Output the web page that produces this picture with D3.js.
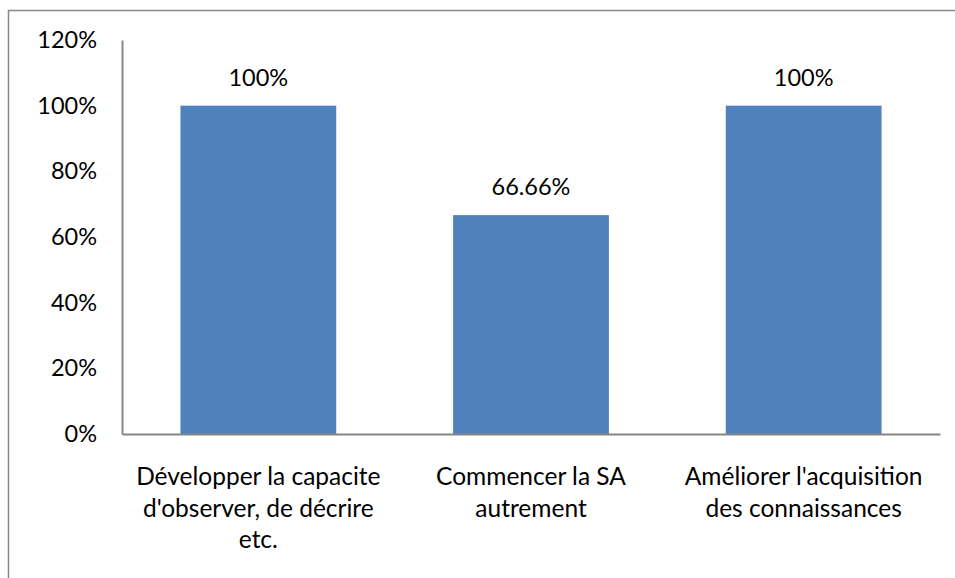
<!DOCTYPE html>
<html><head><meta charset="utf-8">
<script src="https://cdn.jsdelivr.net/npm/d3@7"></script>
<style>body{margin:0;background:#fff}svg{display:block}</style>
</head><body>
<script>
const categories = [
  ["Développer la capacite", "d'observer, de décrire", "etc."],
  ["Commencer la SA", "autrement"],
  ["Améliorer l'acquisition", "des connaissances"]
];
const values = [1.0, 0.6666, 1.0];
const valueLabels = ["100%", "66.66%", "100%"];
const yTicks = [0, 0.2, 0.4, 0.6, 0.8, 1.0, 1.2];

const W = 955, H = 578;
const font = "Lato, 'Open Sans', sans-serif";
const fs = 23.5;
const fsCat = 24.5;
const svg = d3.select("body").append("svg").attr("width", W).attr("height", H);

// outer border (partially clipped)
svg.append("rect").attr("x", 8.5).attr("y", 10.5).attr("width", 1000).attr("height", 1000)
  .attr("fill", "none").attr("stroke", "#898989").attr("stroke-width", 1.5);

const m = {left: 122, right: 940, top: 40, bottom: 434};
const x = d3.scaleBand().domain(d3.range(categories.length)).range([m.left, m.right]).paddingInner(0.4286).paddingOuter(0.2143);
const y = d3.scaleLinear().domain([0, 1.2]).range([m.bottom, m.top]);

svg.selectAll("rect.bar").data(values).join("rect").attr("class", "bar")
  .attr("x", (d, i) => x(i)).attr("width", x.bandwidth())
  .attr("y", d => y(d)).attr("height", d => y(0) - y(d)).attr("fill", "#4F81BD");

const yAxis = svg.append("g").attr("transform", `translate(${m.left},0)`)
  .call(d3.axisLeft(y).tickValues(yTicks).tickFormat(d3.format(".0%")).tickSize(0).tickPadding(25));
yAxis.select(".domain").attr("stroke", "#868686").attr("stroke-width", 2);
yAxis.selectAll("text").attr("font-family", font).attr("font-size", fs).attr("fill", "#000");

const xAxis = svg.append("g").attr("transform", `translate(0,${m.bottom})`)
  .call(d3.axisBottom(x).tickSize(0).tickFormat(""));
xAxis.select(".domain").attr("stroke", "#868686").attr("stroke-width", 2);

// category labels
categories.forEach((lines, i) => {
  const t = svg.append("text").attr("font-family", font).attr("font-size", fsCat).attr("fill", "#000")
    .attr("text-anchor", "middle");
  lines.forEach((l, j) => {
    t.append("tspan").attr("x", x(i) + x.bandwidth() / 2).attr("y", 485 + j * 31.5).text(l);
  });
});

// value labels
svg.selectAll("text.val").data(values).join("text").attr("class", "val")
  .attr("x", (d, i) => x(i) + x.bandwidth() / 2).attr("y", d => y(d) - 20)
  .attr("text-anchor", "middle").attr("font-family", font).attr("font-size", fs).attr("fill", "#000")
  .text((d, i) => valueLabels[i]);
</script>
</body></html>
